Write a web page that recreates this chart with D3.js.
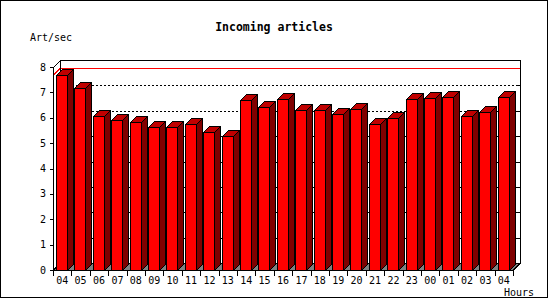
<!DOCTYPE html>
<html>
<head>
<meta charset="utf-8">
<script src="https://cdn.jsdelivr.net/npm/d3@7"></script>
<style>
  body { margin: 0; background: #fff; }
  text { font-family: "DejaVu Sans Mono", monospace; fill: #000; }
</style>
</head>
<body>
<div id="chart"></div>
<script>
// data
const hours = ["04","05","06","07","08","09","10","11","12","13","14","15","16",
               "17","18","19","20","21","22","23","00","01","02","03","04"];
const rates = [7.68,7.16,6.07,5.91,5.83,5.62,5.62,5.74,5.43,5.27,6.69,6.41,6.73,
               6.29,6.29,6.15,6.33,5.74,5.98,6.73,6.77,6.81,6.06,6.21,6.81];
const yTicks = [0,1,2,3,4,5,6,7,8];

const W = 550, H = 300,
    plotLeft = 53, plotRight = 513, plotBottom = 270, plotTop = 67,
    depth = 7, barDepth = 6;

const svg = d3.select("#chart").append("svg")
    .attr("width", W).attr("height", H)
    .attr("shape-rendering", "crispEdges");

const x = d3.scaleBand().domain(d3.range(hours.length)).range([plotLeft, plotRight]).paddingInner(0);
const y = d3.scaleLinear().domain([0, 8]).range([plotBottom, plotTop]);

// outer border
svg.append("rect").attr("x", 0.5).attr("y", 0.5).attr("width", W - 3).attr("height", H - 3)
    .attr("fill", "#fff").attr("stroke", "#000");

// title and axis names
svg.append("text").attr("x", 274).attr("y", 31).attr("text-anchor", "middle")
    .style("font-size", "11.5px").style("font-weight", "bold").text("Incoming articles");
svg.append("text").attr("x", 30).attr("y", 41).style("font-size", "10px").text("Art/sec");
svg.append("text").attr("x", 504).attr("y", 296).style("font-size", "10px").text("Hours");

// floor
const bx0 = plotLeft + depth, bx1 = plotRight + depth, by0 = plotBottom - depth;
svg.append("polygon")
    .attr("points", [[plotLeft, plotBottom + 0.5], [plotRight, plotBottom + 0.5], [bx1, by0 + 0.5], [bx0, by0 + 0.5]].join(" "))
    .attr("fill", "#808080").attr("stroke", "#000");

// dotted grid on back wall
svg.append("g").selectAll("line")
  .data(yTicks.filter(d => d > 0 && d < 8))
  .enter().append("line")
    .attr("x1", bx0).attr("x2", bx1)
    .attr("y1", d => Math.round(y(d)) - depth + 0.5)
    .attr("y2", d => Math.round(y(d)) - depth + 0.5)
    .attr("stroke", "#000").attr("stroke-dasharray", "2,2");

// right side ticks on back frame
svg.append("g").selectAll("line")
  .data(yTicks)
  .enter().append("line")
    .attr("x1", bx1 - 4).attr("x2", bx1)
    .attr("y1", d => Math.round(y(d)) - depth + 0.5)
    .attr("y2", d => Math.round(y(d)) - depth + 0.5)
    .attr("stroke", "#000");

// max line (red)
const maxY = Math.round(y(d3.max(rates))) + 0.5;
svg.append("line").attr("x1", bx0).attr("x2", bx1).attr("y1", maxY - depth).attr("y2", maxY - depth)
    .attr("stroke", "#f00");
svg.append("line").attr("x1", plotLeft).attr("x2", bx0).attr("y1", maxY).attr("y2", maxY - depth)
    .attr("stroke", "#f00");

// back frame
svg.append("polyline")
    .attr("points", [[bx0 + 0.5, by0], [bx0 + 0.5, plotTop - depth + 0.5], [bx1 + 0.5, plotTop - depth + 0.5], [bx1 + 0.5, by0 + 0.5]].join(" "))
    .attr("stroke", "#000").attr("fill", "none");

// bars
const bars = svg.append("g").attr("stroke", "#000");
rates.forEach(function(v, i) {
  const xl = Math.round(x(i)) + 3.5, xr = xl + 11,
      ty = Math.round(y(v)) + 0.5, by = plotBottom + 0.5, d = barDepth;
  bars.append("polygon")
    .attr("points", [[xr, ty], [xr + d, ty - d], [xr + d, by - d], [xr, by]].join(" "))
    .attr("fill", "#800000");
  bars.append("polygon")
    .attr("points", [[xl, ty], [xl + d, ty - d], [xr + d, ty - d], [xr, ty]].join(" "))
    .attr("fill", "#c00000");
  bars.append("rect")
    .attr("x", xl).attr("y", ty).attr("width", xr - xl).attr("height", by - ty)
    .attr("fill", "#f00");
});

// front axes
svg.append("polyline")
    .attr("points", [[bx0 + 0.5, plotTop - depth + 0.5], [plotLeft + 0.5, plotTop + 0.5], [plotLeft + 0.5, plotBottom + 0.5],
                     [plotRight + 0.5, plotBottom + 0.5], [bx1 + 0.5, by0 + 0.5]].join(" "))
    .attr("stroke", "#000").attr("fill", "none");

// y ticks + labels
const yAxis = svg.append("g");
yAxis.selectAll("line").data(yTicks).enter().append("line")
    .attr("x1", plotLeft - 3).attr("x2", plotLeft)
    .attr("y1", d => Math.round(y(d)) + 0.5).attr("y2", d => Math.round(y(d)) + 0.5)
    .attr("stroke", "#000");
yAxis.selectAll("text").data(yTicks).enter().append("text")
    .attr("x", 46).attr("y", d => y(d)).attr("dy", "0.36em")
    .attr("text-anchor", "end").style("font-size", "10px")
    .text(d => d);

// x ticks + labels
const xAxis = svg.append("g");
xAxis.selectAll("line").data(d3.range(hours.length + 1)).enter().append("line")
    .attr("x1", i => Math.round(plotLeft + i * x.step()) + 0.5)
    .attr("x2", i => Math.round(plotLeft + i * x.step()) + 0.5)
    .attr("y1", plotBottom).attr("y2", plotBottom + 6)
    .attr("stroke", "#000");
xAxis.selectAll("text").data(hours).enter().append("text")
    .attr("x", (d, i) => x(i) + x.bandwidth() / 2).attr("y", 284)
    .attr("text-anchor", "middle").style("font-size", "10px")
    .text(d => d);
</script>
</body>
</html>
